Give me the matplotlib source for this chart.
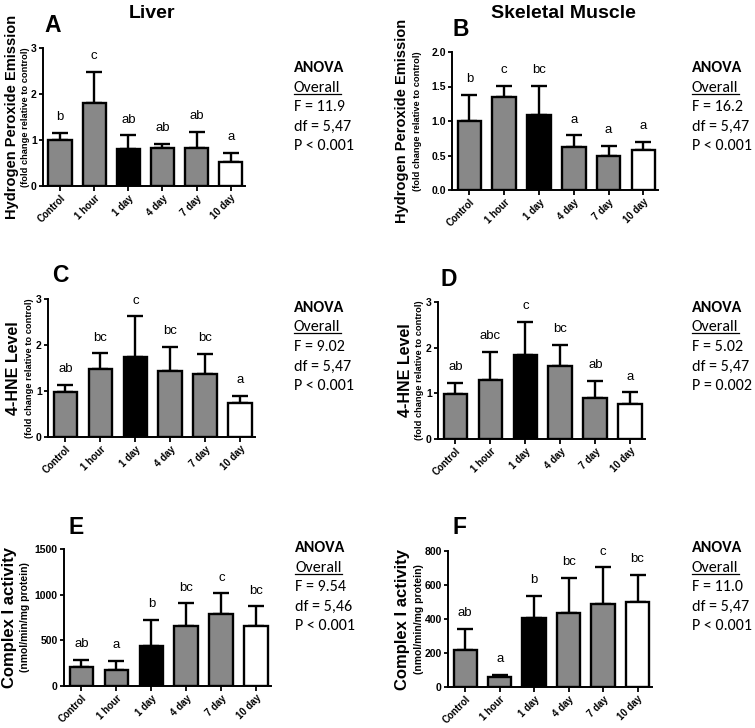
import matplotlib
matplotlib.use("Agg")
import matplotlib.pyplot as plt
from matplotlib.lines import Line2D
from matplotlib.ticker import FormatStrFormatter

plt.rcParams["font.family"] = ["Liberation Sans", "DejaVu Sans"]
ANOVA_FONT = ["Carlito", "Lato", "DejaVu Sans"]

groups = ["Control", "1 hour", "1 day", "4 day", "7 day", "10 day"]
bar_colors = ["#888888", "#888888", "#000000", "#888888", "#888888", "#ffffff"]

# panel A: liver H2O2 emission (fold change)
liver_h2o2 = [1.00, 1.80, 0.80, 0.82, 0.82, 0.52]
liver_h2o2_sd = [0.15, 0.68, 0.30, 0.10, 0.35, 0.20]
liver_h2o2_sig = ["b", "c", "ab", "ab", "ab", "a"]

# panel B: muscle H2O2 emission
muscle_h2o2 = [1.00, 1.35, 1.09, 0.63, 0.49, 0.58]
muscle_h2o2_sd = [0.38, 0.16, 0.42, 0.16, 0.15, 0.12]
muscle_h2o2_sig = ["b", "c", "bc", "a", "a", "a"]

# panel C: liver 4-HNE
liver_hne = [0.98, 1.48, 1.74, 1.44, 1.36, 0.73]
liver_hne_sd = [0.16, 0.34, 0.88, 0.52, 0.44, 0.17]
liver_hne_sig = ["ab", "bc", "c", "bc", "bc", "a"]

# panel D: muscle 4-HNE
muscle_hne = [0.99, 1.29, 1.84, 1.59, 0.89, 0.76]
muscle_hne_sd = [0.24, 0.62, 0.72, 0.47, 0.38, 0.26]
muscle_hne_sig = ["ab", "abc", "c", "bc", "ab", "a"]

# panel E: liver complex I activity
liver_c1 = [203, 171, 440, 654, 788, 656]
liver_c1_sd = [84, 101, 283, 251, 226, 215]
liver_c1_sig = ["ab", "a", "b", "bc", "c", "bc"]

# panel F: muscle complex I activity
muscle_c1 = [216, 60, 408, 437, 491, 499]
muscle_c1_sd = [125, 11, 130, 207, 212, 162]
muscle_c1_sig = ["ab", "a", "b", "bc", "c", "bc"]

W, H = 755, 728
fig = plt.figure(figsize=(W / 100, H / 100), dpi=100)


def px_axes(left, right, top, bottom):
    return fig.add_axes([left / W, 1 - bottom / H, (right - left) / W, (bottom - top) / H])


def panel(box, vals, sd, sig, ymax, yticks, fmt, ylab, ylab2, lab_x, lab_fs, letter, letter_xy,
          anova, anova_x, anova_y):
    ax = px_axes(*box)
    x = list(range(len(groups)))
    ax.bar(x, vals, width=0.68, color=bar_colors, edgecolor="black", linewidth=1.7, zorder=3)
    ax.errorbar(x, vals, yerr=[[0] * len(sd), sd], fmt="none", ecolor="black",
                elinewidth=1.7, capsize=5.5, capthick=1.7, zorder=2)
    for xi, v, s, t in zip(x, vals, sd, sig):
        ax.annotate(t, (xi, v + s), xytext=(0, 7), textcoords="offset points",
                    ha="center", va="bottom", fontsize=9.5)
    ax.set_xlim(-0.5, 5.42)
    ax.set_ylim(0, ymax)
    ax.set_yticks(yticks)
    ax.yaxis.set_major_formatter(FormatStrFormatter(fmt))
    ax.set_xticks(x)
    ax.set_xticklabels(groups, rotation=45, ha="right", rotation_mode="anchor",
                       fontsize=7, fontweight="bold")
    for lbl in ax.get_yticklabels():
        lbl.set_fontweight("bold")
        lbl.set_fontsize(7.5)
    ax.tick_params(axis="y", direction="out", width=1.3, length=3, pad=1.5)
    ax.tick_params(axis="x", direction="out", width=1.3, length=3.5, pad=1.5)
    for s in ["top", "right"]:
        ax.spines[s].set_visible(False)
    for s in ["left", "bottom"]:
        ax.spines[s].set_linewidth(1.4)
    ax.patch.set_alpha(0)

    ymid = 1 - (box[2] + box[3]) / 2 / H
    fig.text(lab_x[0] / W, ymid, ylab, rotation=90, ha="center", va="center",
             fontsize=lab_fs[0], fontweight="bold")
    fig.text(lab_x[1] / W, ymid, ylab2, rotation=90, ha="center", va="center",
             fontsize=lab_fs[1], fontweight="bold")
    fig.text(letter_xy[0] / W, 1 - letter_xy[1] / H, letter, ha="left", va="center",
             fontsize=16.5, fontweight="bold")

    lines = ["ANOVA", "Overall"] + anova
    for i, line in enumerate(lines):
        t = fig.text(anova_x / W, 1 - (anova_y + i * 19.5) / H, line, ha="left",
                     va="center", fontsize=11.5, family=ANOVA_FONT,
                     fontweight="bold" if i == 0 else "normal")
        if i == 1:
            fig.canvas.draw()
            bb = t.get_window_extent()
            yy = (bb.y0 + 1) / H
            fig.add_artist(Line2D([bb.x0 / W, bb.x1 / W], [yy, yy], color="black",
                                  lw=0.9, transform=fig.transFigure))
    return ax


h2o2_lab = "Hydrogen Peroxide Emission"
fold_lab = "(fold change relative to control)"
hne_lab = "4-HNE Level"
c1_lab = "Complex I activity"
c1_units = "(nmol/min/mg protein)"

panel((43, 245, 48, 186), liver_h2o2, liver_h2o2_sd, liver_h2o2_sig, 3, [0, 1, 2, 3], "%d",
      h2o2_lab, fold_lab, (12, 26), (10.5, 6.7), "A", (44, 26),
      ["F = 11.9", "df = 5,47", "P < 0.001"], 294, 68)
panel((452, 658, 52, 190), muscle_h2o2, muscle_h2o2_sd, muscle_h2o2_sig, 2,
      [0, 0.5, 1.0, 1.5, 2.0], "%.1f",
      h2o2_lab, fold_lab, (402, 417), (10.5, 6.7), "B", (452, 30),
      ["F = 16.2", "df = 5,47", "P < 0.001"], 692, 68)
panel((48, 255, 299, 437), liver_hne, liver_hne_sd, liver_hne_sig, 3, [0, 1, 2, 3], "%d",
      hne_lab, fold_lab, (14, 29), (11.5, 6.7), "C", (52, 276),
      ["F = 9.02", "df = 5,47", "P < 0.001"], 294, 308)
panel((438, 645, 302, 439), muscle_hne, muscle_hne_sd, muscle_hne_sig, 3, [0, 1, 2, 3], "%d",
      hne_lab, fold_lab, (406, 419), (11.5, 6.7), "D", (441, 280),
      ["F = 5.02", "df = 5,47", "P = 0.002"], 692, 308)
panel((64, 271, 549, 686), liver_c1, liver_c1_sd, liver_c1_sig, 1500, [0, 500, 1000, 1500], "%d",
      c1_lab, c1_units, (10, 25), (12, 7.5), "E", (68, 527),
      ["F = 9.54", "df = 5,46", "P < 0.001"], 295, 548)
panel((448, 652, 551, 687), muscle_c1, muscle_c1_sd, muscle_c1_sig, 800, [0, 200, 400, 600, 800], "%d",
      c1_lab, c1_units, (402, 419), (12, 7.5), "F", (452, 527),
      ["F = 11.0", "df = 5,47", "P < 0.001"], 692, 548)

fig.text(152 / W, 1 - 13 / H, "Liver", ha="center", va="center", fontsize=14, fontweight="bold")
fig.text(563 / W, 1 - 13 / H, "Skeletal Muscle", ha="center", va="center", fontsize=14,
         fontweight="bold")

fig.savefig("out.png", dpi=100, facecolor="white")
